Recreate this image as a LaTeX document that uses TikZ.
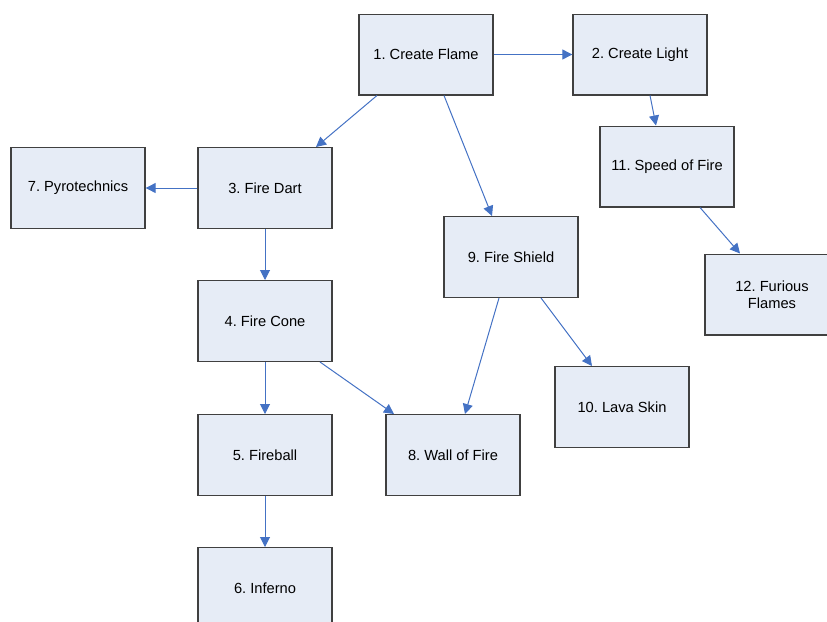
\documentclass[tikz,border=0pt]{standalone}
\usepackage{fontspec}
\setmainfont{Liberation Sans}
\usetikzlibrary{arrows.meta}
\definecolor{boxfill}{RGB}{230,236,246}
\definecolor{boxline}{RGB}{64,64,64}
\definecolor{link}{RGB}{68,114,196}
\frenchspacing
\begin{document}
\begin{tikzpicture}[x=0.75pt,y=-0.75pt,
  spell/.style={draw=boxline,fill=boxfill,line width=1pt,minimum width=100.5pt,
    minimum height=60.5pt,inner sep=0pt,align=center,
    font=\fontsize{11}{13}\selectfont},
  link/.style={draw=link,line width=0.75pt,-{Triangle[length=7.5pt,width=7.5pt]}}]
\useasboundingbox (0,0) rectangle (827,621);
\node[spell] (n1)  at (426,54.5)  {1. Create Flame};
\node[spell] (n2)  at (640,54.5)  {2. Create Light};
\node[spell] (n11) at (667,166.5) {11. Speed of Fire};
\node[spell] (n12) at (772,294.5) {12. Furious\\Flames};
\node[spell] (n3)  at (265,188)   {3. Fire Dart};
\node[spell] (n7)  at (78,188)    {7. Pyrotechnics};
\node[spell] (n4)  at (265,321)   {4. Fire Cone};
\node[spell] (n9)  at (511,257)   {9. Fire Shield};
\node[spell] (n10) at (622,407)   {10. Lava Skin};
\node[spell] (n8)  at (453,455)   {8. Wall of Fire};
\node[spell] (n5)  at (265,455)   {5. Fireball};
\node[spell] (n6)  at (265,588)   {6. Inferno};
% prerequisite links
\draw[link] (n1.east) -- (n2.west);
\draw[link] ([xshift=-36.75pt]n1.south) -- ([xshift=38.25pt]n3.north);
\draw[link] ([xshift=13.5pt]n1.south) -- ([xshift=-14.25pt]n9.north);
\draw[link] ([xshift=7.5pt]n2.south) -- ([xshift=-8.25pt]n11.north);
\draw[link] ([xshift=24.75pt]n11.south) -- ([xshift=-24pt]n12.north);
\draw[link] (n3.west) -- (n7.east);
\draw[link] (n3.south) -- (n4.north);
\draw[link] (n4.south) -- (n5.north);
\draw[link] ([xshift=41.25pt]n4.south) -- ([xshift=-44.25pt]n8.north);
\draw[link] ([xshift=-9pt]n9.south) -- ([xshift=9pt]n8.north);
\draw[link] ([xshift=22.5pt]n9.south) -- ([xshift=-22.5pt]n10.north);
\draw[link] (n5.south) -- (n6.north);
\end{tikzpicture}
\end{document}
